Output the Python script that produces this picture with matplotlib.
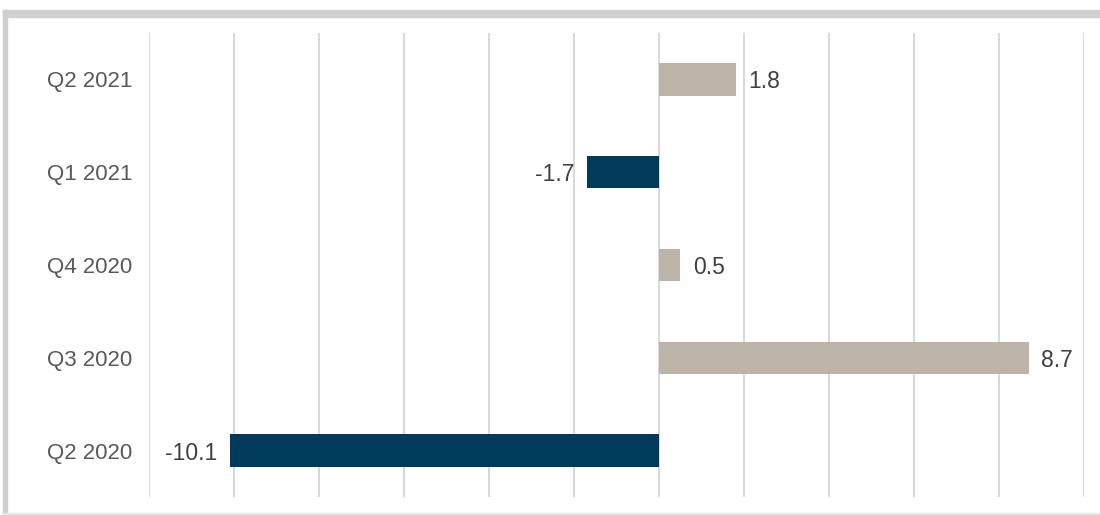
import numpy as np
import matplotlib.pyplot as plt
from matplotlib.patches import Rectangle

quarters = ['Q2 2020', 'Q3 2020', 'Q4 2020', 'Q1 2021', 'Q2 2021']
growth = [-10.1, 8.7, 0.5, -1.7, 1.8]

navy = '#023a5c'
beige = '#bdb3a9'

plt.rcParams['font.family'] = ['Liberation Sans', 'DejaVu Sans']

fig = plt.figure(figsize=(11, 5.15), dpi=100)
ax = fig.add_axes([0.1355, 0.035, 0.85, 0.901])

y = np.arange(len(quarters))
colors = [navy if v < 0 else beige for v in growth]
ax.barh(y, growth, height=0.35, color=colors, zorder=3)

for yi, v in zip(y, growth):
    off = 9 if v >= 0 else -9
    ax.annotate(f'{v:.1f}', (v, yi), xytext=(off, 0), textcoords='offset points',
                ha='left' if v >= 0 else 'right', va='center_baseline',
                fontsize=16.5, color='#404040')

ax.set_xlim(-12, 10)
ax.set_ylim(-0.5, 4.5)
ax.set_xticks(np.arange(-12, 11, 2))
ax.set_yticks(y)
ax.set_yticklabels(quarters, fontsize=16, color='#595959', va='center_baseline')
ax.tick_params(axis='y', length=0, pad=12)
ax.tick_params(axis='x', length=0, labelbottom=False)
ax.grid(axis='x', color='#d9d9d9', linewidth=1.5, zorder=0)
for s in ax.spines.values():
    s.set_visible(False)

# grey frame round the chart area
fig.patches.append(Rectangle((3 / 1100, 0), 4 / 1100, 1 - 10 / 515, transform=fig.transFigure,
                             color='#d0d0d0', zorder=0))
fig.patches.append(Rectangle((3 / 1100, 1 - 17 / 515), 1, 7 / 515, transform=fig.transFigure,
                             color='#d0d0d0', zorder=0))
fig.patches.append(Rectangle((3 / 1100, 0), 1, 2 / 515, transform=fig.transFigure,
                             color='#e6e6e6', zorder=0))

fig.savefig('out.png', dpi=100)
